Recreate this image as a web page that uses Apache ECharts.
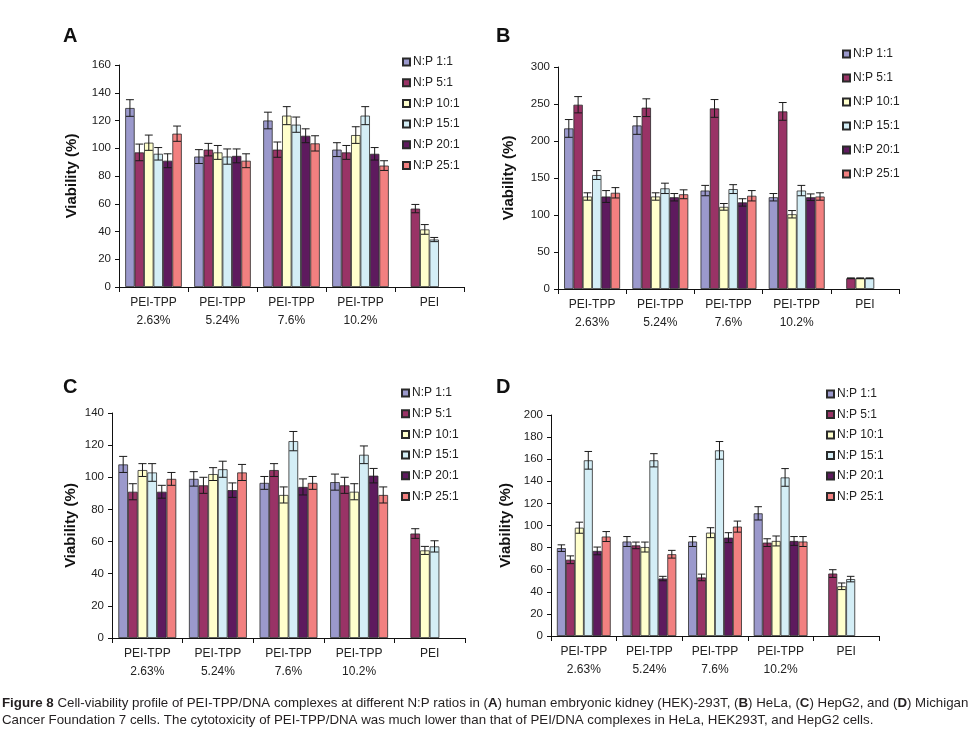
<!DOCTYPE html>
<html>
<head>
<meta charset="utf-8">
<script src="https://cdn.jsdelivr.net/npm/echarts@6/dist/echarts.min.js"></script>
<style>
html,body{margin:0;padding:0;background:#fff;}
#c{width:976px;height:733px;}
</style>
</head>
<body>
<div id="c"></div>
<script>
// ---- data ----
const categories = ['PEI-TPP\n2.63%', 'PEI-TPP\n5.24%', 'PEI-TPP\n7.6%', 'PEI-TPP\n10.2%', 'PEI'];
const seriesNames = ['N:P 1:1', 'N:P 5:1', 'N:P 10:1', 'N:P 15:1', 'N:P 20:1', 'N:P 25:1'];
const colors = ['#9b99cc', '#993366', '#ffffcc', '#d4eef6', '#5e1a5e', '#f28080'];

// Panel A: HEK-293T
const A_values = [
  [129, 94, 120, 99, null],
  [97, 99, 99, 97, 56.5],
  [104, 97, 123.5, 109.5, 41.5],
  [96, 94, 117, 123.5, 34.2],
  [91, 94.5, 109, 96, null],
  [110.5, 91, 103.5, 87.5, null]
];
const A_errors = [
  [6, 5, 6, 5, null],
  [6, 4.5, 5.5, 5, 3],
  [5.5, 5, 6.5, 6, 3.5],
  [4.5, 5.5, 5.5, 6.5, 1.5],
  [5, 5, 5, 4.5, null],
  [5.5, 5, 5.5, 3.5, null]
];
// Panel B: HeLa
const B_values = [
  [217, 221, 133, 124, null],
  [249, 245, 244, 240, 14.5],
  [125, 125, 111, 101, 14.5],
  [154, 136, 135, 133, 14.5],
  [125, 124, 117, 124, null],
  [130, 128, 126, 125, null]
];
const B_errors = [
  [12, 12, 7, 5, null],
  [11, 12, 12, 12, 0.5],
  [5, 5, 4.5, 5, 0.5],
  [6, 7, 6, 7, 0.5],
  [8, 5, 5, 4.5, null],
  [7, 6, 7, 5, null]
];
// Panel C: HepG2
const C_values = [
  [108, 99, 96.5, 97, null],
  [91, 95, 104.5, 95, 65],
  [104.5, 102, 89, 91, 54.5],
  [103, 105, 122.5, 114, 57],
  [91, 92, 94, 101, null],
  [99, 103, 96.5, 89, null]
];
const C_errors = [
  [5, 4.5, 4, 5, null],
  [5, 5, 4, 5, 3],
  [4, 4, 5, 5, 2.5],
  [5.5, 5, 6, 5.5, 3.5],
  [4, 4.5, 5, 4.5, null],
  [4, 5, 4, 5, null]
];
// Panel D: MCF-7
const D_values = [
  [79.5, 85.5, 85.5, 111, null],
  [69, 82, 53, 84.5, 56.5],
  [98, 80.5, 93.5, 86, 45],
  [159, 159, 168, 143.5, 51.5],
  [77, 52, 89, 86, null],
  [90, 74, 99, 85.5, null]
];
const D_errors = [
  [3, 4.5, 4.5, 6, null],
  [3.5, 3, 3, 3.5, 3.5],
  [5, 4.5, 4.5, 4.5, 3],
  [8, 6, 8, 8, 2.5],
  [3.5, 2, 4.5, 4, null],
  [4.5, 3.5, 5, 4.5, null]
];

const yMax = [160, 300, 140, 200];
const yInterval = [20, 50, 20, 20];
const panelLetters = ['A', 'B', 'C', 'D'];

// ---- layout ----
const FONT = "'Liberation Sans', Arial, sans-serif";
const grids = [
  {left: 119, right: 512, top: 65, bottom: 446},
  {left: 558, right: 77, top: 67, bottom: 444},
  {left: 112, right: 511, top: 413, bottom: 95},
  {left: 551, right: 97, top: 415, bottom: 97}
];
const legendPos = [
  {left: 402, top: 55, itemGap: 6.7},
  {left: 842, top: 47, itemGap: 10},
  {left: 401, top: 386, itemGap: 6.7},
  {left: 826, top: 387, itemGap: 6.5}
];
const nameGaps = [40, 42, 34, 38];
const letterPos = [[63, 26], [496, 26], [63, 377], [496, 377]];

const GAP = 0.18;
const allValues = [A_values, B_values, C_values, D_values];
const allErrors = [A_errors, B_errors, C_errors, D_errors];

const xAxes = [], yAxes = [], series = [], legends = [];
for (let g = 0; g < 4; g++) {
  xAxes.push({
    type: 'category', gridIndex: g, data: categories,
    axisLine: {lineStyle: {color: '#111', width: 1}},
    axisTick: {show: true, length: 5, interval: 0, lineStyle: {color: '#111'}},
    axisLabel: {fontSize: 12, lineHeight: 18, color: '#222', margin: 7, interval: 0, fontFamily: FONT}
  });
  yAxes.push({
    type: 'value', gridIndex: g, min: 0, max: yMax[g], interval: yInterval[g],
    name: 'Viability (%)', nameLocation: 'middle', nameGap: nameGaps[g], nameRotate: 90,
    nameTextStyle: {fontSize: 15, fontWeight: 'bold', color: '#111', fontFamily: FONT},
    axisLine: {show: true, lineStyle: {color: '#111', width: 1}},
    axisTick: {show: true, length: 4, lineStyle: {color: '#111'}},
    splitLine: {show: false},
    axisLabel: {fontSize: 11.5, color: '#222', margin: 8, fontFamily: FONT}
  });
  for (let s = 0; s < 6; s++) {
    series.push({
      type: 'bar', name: seriesNames[s], xAxisIndex: g, yAxisIndex: g,
      data: allValues[g][s],
      barGap: '0%', barCategoryGap: (GAP * 100) + '%',
      itemStyle: {color: colors[s], borderColor: '#2a2a2a', borderWidth: 0.8},
      emphasis: {disabled: true},
      animation: false
    });
  }
  for (let s = 0; s < 6; s++) {
    const d = [];
    allValues[g][s].forEach((v, i) => {
      const e = allErrors[g][s][i];
      if (v != null && e != null) d.push([i, v, e]);
    });
    const sIdx = s;
    series.push({
      type: 'custom', name: 'err' + g + '_' + s, xAxisIndex: g, yAxisIndex: g,
      data: d, z: 5, animation: false, silent: true,
      encode: {x: 0, y: 1},
      renderItem: function (params, api) {
        const ci = api.value(0), v = api.value(1), e = api.value(2);
        const band = api.size([1, 0])[0];
        const bw = band * (1 - GAP) / 6;
        const c = api.coord([ci, v]);
        const cx = c[0] + (sIdx - 2.5) * bw;
        const yt = api.coord([ci, v + e])[1];
        const yb = api.coord([ci, v - e])[1];
        const hw = bw * 0.42;
        const st = {stroke: '#1a1a1a', lineWidth: 1};
        return {
          type: 'group',
          children: [
            {type: 'line', shape: {x1: cx, y1: yt, x2: cx, y2: yb}, style: st},
            {type: 'line', shape: {x1: cx - hw, y1: yt, x2: cx + hw, y2: yt}, style: st},
            {type: 'line', shape: {x1: cx - hw, y1: yb, x2: cx + hw, y2: yb}, style: st}
          ]
        };
      }
    });
  }
  legends.push({
    orient: 'vertical', left: legendPos[g].left, top: legendPos[g].top,
    itemGap: legendPos[g].itemGap, itemWidth: 7, itemHeight: 7, padding: 0,
    icon: 'rect', data: seriesNames, selectedMode: false,
    textStyle: {fontSize: 12, lineHeight: 14, color: '#222', fontFamily: FONT, padding: [0, 0, 0, -2]}
  });
}

const graphics = panelLetters.map((t, i) => ({
  type: 'text', left: letterPos[i][0], top: letterPos[i][1],
  style: {text: t, fontSize: 20, fontWeight: 'bold', fill: '#111', fontFamily: FONT}
}));
const CAPFONT = "'Liberation Sans', sans-serif";
graphics.push({
  type: 'text', left: 2, top: 695,
  style: {
    text: '{b|Figure 8} Cell-viability profile of PEI-TPP/DNA complexes at different N:P ratios in ({b|A}) human embryonic kidney (HEK)-293T, ({b|B}) HeLa, ({b|C}) HepG2, and ({b|D}) Michigan\nCancer Foundation 7 cells. The cytotoxicity of PEI-TPP/DNA was much lower than that of PEI/DNA complexes in HeLa, HEK293T, and HepG2 cells.',
    fontSize: 13.3, lineHeight: 17, fill: '#231f20',
    fontFamily: CAPFONT,
    rich: {b: {fontWeight: 'bold', fontSize: 13.3, fontFamily: CAPFONT}}
  }
});

const chart = echarts.init(document.getElementById('c'), null, {renderer: 'canvas'});
chart.setOption({
  backgroundColor: '#ffffff',
  animation: false,
  grid: grids,
  xAxis: xAxes,
  yAxis: yAxes,
  legend: legends,
  series: series,
  graphic: graphics
});
</script>
</body>
</html>
